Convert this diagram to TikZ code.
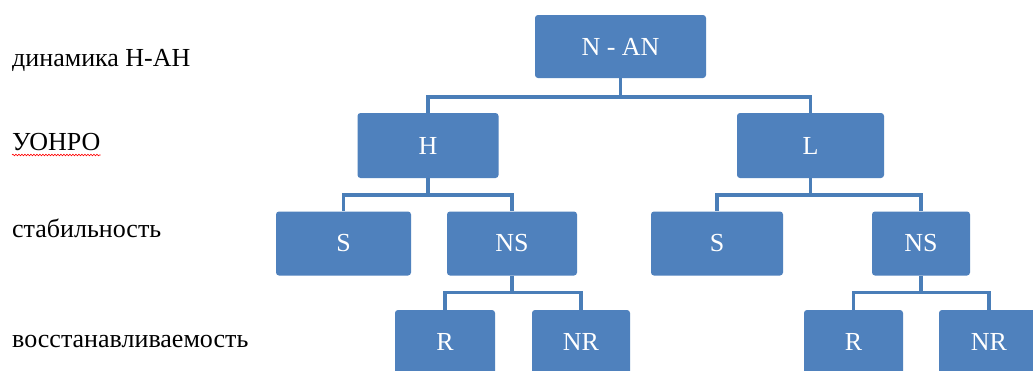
\documentclass[tikz,border=0pt]{standalone}
\usepackage{fontspec}
\setmainfont{Liberation Serif}
\newfontfamily\treefont{Liberation Serif}
\usepackage{xcolor}
\usetikzlibrary{decorations.pathmorphing}
\definecolor{boxblue}{HTML}{4F81BD}
\definecolor{lineblue}{HTML}{4A7EB8}

\begin{document}
\begin{tikzpicture}[x=1pt, y=-1pt]
    \tikzset{box/.style 2 args={fill=boxblue, draw=none, rounded corners=3pt,
        text=white, font=\treefont\fontsize{26}{28}\selectfont,
        minimum width=#1pt, minimum height=#2pt, inner sep=0pt},
      conn/.style={draw=lineblue, line width=3.5pt},
      level/.style={anchor=base west, inner sep=0pt,
        font=\treefont\fontsize{26}{28}\selectfont}}
    \clip (0,0) rectangle (1033,370);
    \fill[white] (0,0) rectangle (1033,370);
    \node[level] (lev1) at (12,66) {динамика Н-АН};
    \node[level] (lev2) at (12,150) {УОНРО};
    \node[level] (lev3) at (12,237) {стабильность};
    \node[level] (lev4) at (12,347) {восстанавливаемость};
    \draw[red, line width=0.6pt, decorate,
      decoration={snake, segment length=3pt, amplitude=0.8pt}]
      ([yshift=-5pt]lev2.base west) -- ([yshift=-5pt]lev2.base east);
    \node[box={171}{63}] (nan) at (620.5,46.5) {N - AN};
    \node[box={141}{65}] (h) at (428,145.5) {H};
    \node[box={147}{65}] (l) at (810.5,145.5) {L};
    \node[box={135}{64}] (sh) at (343.5,243.5) {S};
    \node[box={130}{64}] (nsh) at (512,243.5) {NS};
    \node[box={132}{64}] (sl) at (717,243.5) {S};
    \node[box={98}{64}] (nsl) at (921,243.5) {NS};
    \node[box={100}{64}] (rh) at (445,342) {R};
    \node[box={98}{64}] (nrh) at (581,342) {NR};
    \node[box={99}{64}] (rl) at (853.5,342) {R};
    \node[box={100}{64}] (nrl) at (989,342) {NR};
    \draw[conn] (nan.south) -- ++(0,19) coordinate (bn) -| (h.north);
    \draw[conn] (bn) -| (l.north);
    \draw[conn] (h.south) -- ++(0,17) coordinate (bh) -| (sh.north);
    \draw[conn] (bh) -| (nsh.north);
    \draw[conn] (l.south) -- ++(0,17) coordinate (bl) -| (sl.north);
    \draw[conn] (bl) -| (nsl.north);
    \draw[conn] (nsh.south) -- ++(0,17) coordinate (bnsh) -| (rh.north);
    \draw[conn] (bnsh) -| (nrh.north);
    \draw[conn] (nsl.south) -- ++(0,17) coordinate (bnsl) -| (rl.north);
    \draw[conn] (bnsl) -| (nrl.north);
\end{tikzpicture}
\end{document}
